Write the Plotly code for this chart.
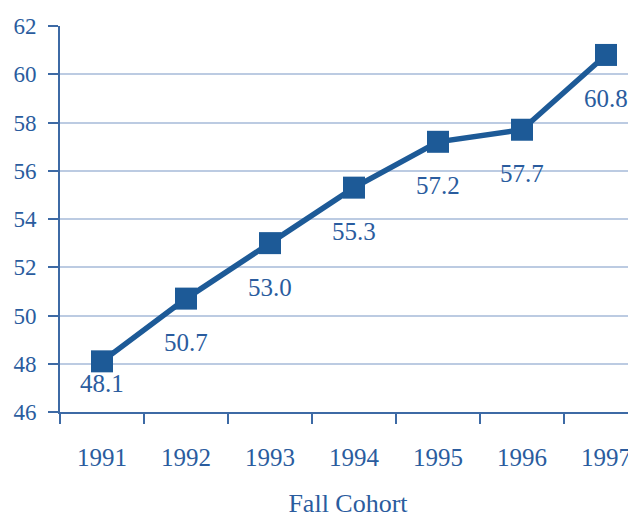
import plotly.graph_objects as go

years = ["1991", "1992", "1993", "1994", "1995", "1996", "1997"]
values = [48.1, 50.7, 53.0, 55.3, 57.2, 57.7, 60.8]
labels = ["48.1", "50.7", "53.0", "55.3", "57.2", "57.7", "60.8"]
y_ticks = [46, 48, 50, 52, 54, 56, 58, 60, 62]

line_color = "#1d5a97"
text_color = "#2a5c9e"
font_family = "Liberation Serif, DejaVu Serif, serif"

fig = go.Figure()
fig.add_trace(go.Scatter(
    x=years, y=values, mode="lines+markers",
    line=dict(color=line_color, width=5.5),
    marker=dict(symbol="square", size=22, color=line_color),
    showlegend=False, hoverinfo="skip",
))

for i, (v, t) in enumerate(zip(values, labels)):
    fig.add_annotation(
        x=i, y=v, text=t, showarrow=False,
        yshift=-22 if i == 0 else -44,
        font=dict(family=font_family, size=25, color=text_color),
    )

fig.update_layout(
    width=628, height=510,
    margin=dict(l=52, r=0, t=18, b=106),
    paper_bgcolor="white", plot_bgcolor="white",
    font=dict(family=font_family, size=23, color=text_color),
    xaxis=dict(
        type="category", range=[-0.5, 6.357], automargin=False,
        tickson="boundaries", ticks="outside", ticklen=10, tickwidth=2,
        tickcolor="#3d6aa5", showline=True, linecolor="#3d6aa5", linewidth=2,
        showgrid=False, ticklabelstandoff=22,
        tickfont=dict(family=font_family, size=25, color=text_color),
        title=dict(text="Fall Cohort", standoff=30,
                   font=dict(family=font_family, size=26, color=text_color)),
    ),
    yaxis=dict(
        range=[46, 62], tickvals=y_ticks, ticks="outside", ticklen=10,
        tickwidth=2, tickcolor="#3d6aa5", showline=True, linecolor="#3d6aa5",
        linewidth=2, showgrid=True, gridcolor="#bccbe2", gridwidth=2,
        zeroline=False, ticklabelstandoff=7, automargin=False,
        tickfont=dict(family=font_family, size=23, color=text_color),
    ),
)

fig.write_html("out.html")
